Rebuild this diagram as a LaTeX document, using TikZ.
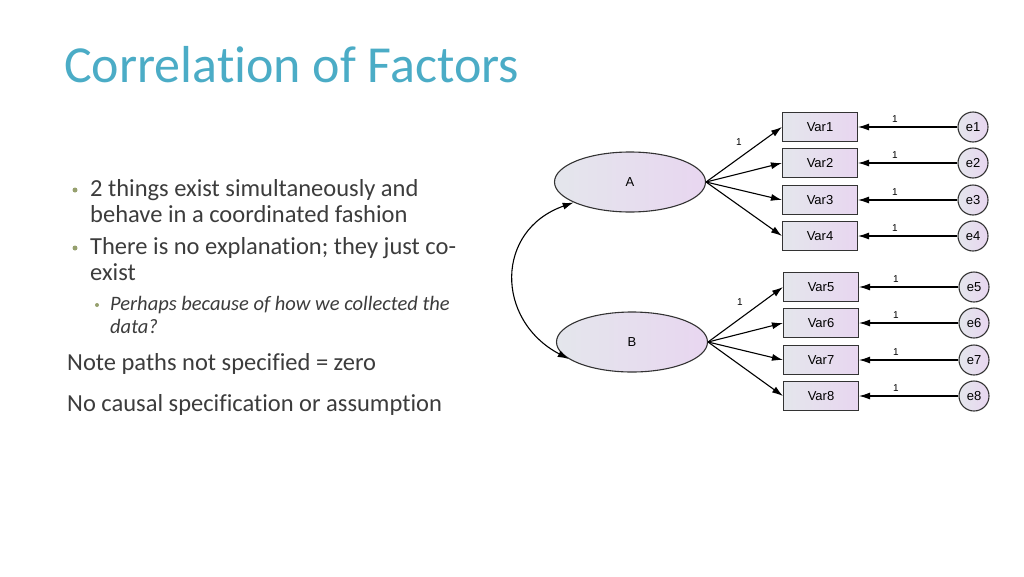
\documentclass[tikz,border=0pt]{standalone}
\usepackage{fontspec}
\setmainfont[Ligatures={NoCommon}]{Carlito}
\newfontfamily\amosfont{Liberation Sans}
\usetikzlibrary{arrows.meta,shapes.geometric}
\definecolor{titlec}{RGB}{75,172,198}
\definecolor{bodyc}{RGB}{60,60,60}
\definecolor{bulc}{RGB}{150,160,110}
\definecolor{lavl}{RGB}{228,230,236}
\definecolor{lavr}{RGB}{232,214,240}
\tikzset{
  body/.style={anchor=base west,text=bodyc,font=\fontsize{24.5}{24.5}\selectfont,inner sep=0},
  sub/.style={anchor=base west,text=bodyc,font=\fontsize{20.5}{20.5}\selectfont\itshape,inner sep=0},
  bul/.style={circle,fill=bulc,inner sep=0,minimum size=5pt},
  obs/.style={draw=black!80,line width=1.1pt,left color=lavl,right color=lavr,minimum width=75pt,minimum height=29pt,font=\amosfont\fontsize{13}{13}\selectfont},
  lat/.style={ellipse,draw=black!80,line width=1.1pt,left color=lavl,right color=lavr,minimum width=151pt,minimum height=60pt,font=\amosfont\fontsize{13}{13}\selectfont},
  err/.style={circle,draw=black!80,line width=1.1pt,left color=lavl,right color=lavr,minimum size=30pt,inner sep=0,font=\amosfont\fontsize{13}{13}\selectfont},
  path/.style={-{Latex[length=11pt,width=7pt]},line width=1.1pt},
  one/.style={font=\amosfont\fontsize{10}{10}\selectfont,inner sep=0}
}
\begin{document}
\begin{tikzpicture}[x=1pt,y=-1pt]
\useasboundingbox (0,0) rectangle (1024,576);
\node[anchor=base west,text=titlec,font=\fontsize{52}{52}\selectfont,inner sep=0] (title) at (64,82) {Correlation of Factors};
\node[bul] (b1) at (75,190) {};
\node[body] (t1) at (90,196) {2 things exist simultaneously and};
\node[body] (t2) at (90,222) {behave in a coordinated fashion};
\node[bul] (b2) at (75,248) {};
\node[body] (t3) at (90,254) {There is no explanation; they just co-};
\node[body] (t4) at (90,280) {exist};
\node[bul,minimum size=4pt] (b3) at (97,305) {};
\node[sub] (t5) at (110,310) {Perhaps because of how we collected the};
\node[sub] (t6) at (110,333) {data?};
\node[body] (t7) at (67,370) {Note paths not specified = zero};
\node[body] (t8) at (67,411) {No causal specification or assumption};

\node[lat] (A) at (630,182) {A};
\node[lat] (B) at (632,342) {B};
\foreach \i/\y in {1/127,2/163,3/200,4/236}{
  \node[obs] (v\i) at (820,\y) {Var\i};
  \node[err] (e\i) at (973,\y) {e\i};
  \draw[path] (A.east) -- (v\i.west);
  \draw[path] (e\i) -- node[one,above=4pt,pos=0.63]{1} (v\i);
}
\foreach \i/\y in {5/287,6/323,7/360,8/396}{
  \node[obs] (v\i) at (821,\y) {Var\i};
  \node[err] (e\i) at (974,\y) {e\i};
  \draw[path] (B.east) -- (v\i.west);
  \draw[path] (e\i) -- node[one,above=4pt,pos=0.63]{1} (v\i);
}
\node[one] (l1) at (739,142) {1};
\node[one] (l2) at (740,302) {1};
\draw[{Latex[length=11pt,width=7pt]}-{Latex[length=11pt,width=7pt]},line width=1.1pt] (A.200) .. controls (495,230) and (495,320) .. (B.195);
\end{tikzpicture}
\end{document}
